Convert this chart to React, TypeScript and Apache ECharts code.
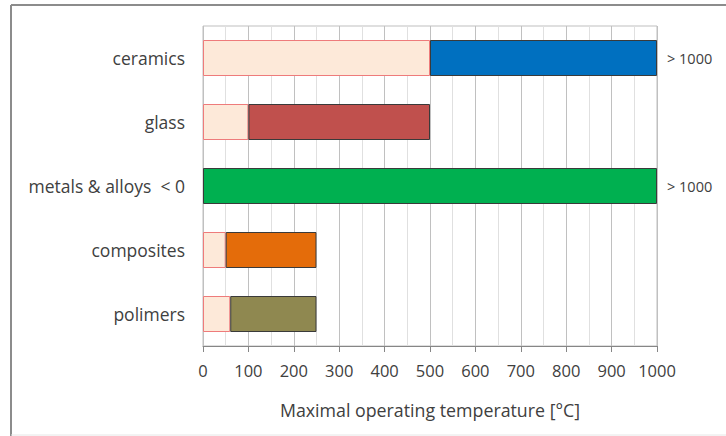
import React, { useEffect, useRef } from "react";
import * as echarts from "echarts";

const categories = ["ceramics", "glass", "metals & alloys  < 0", "composites", "polimers"];
const baseValues = [500, 100, 0, 50, 60];
const rangeValues = [500, 400, 1000, 200, 190];
const rangeColors = ["#0070C0", "#C0504D", "#00B050", "#E46C0A", "#8F8850"];
const overflowLabels = ["> 1000", "", "> 1000", "", ""];
const axisTitle = "Maximal operating temperature [°C]";

const FONT = "'Open Sans', sans-serif";
const TEXT = "#404040";

export default function App() {
  const ref = useRef<HTMLDivElement>(null);
  useEffect(() => {
    const chart = echarts.init(ref.current!, null, { renderer: "svg" });
    chart.setOption({
      animation: false,
      backgroundColor: "#ffffff",
      grid: {
        left: 203,
        right: 69,
        top: 26,
        bottom: 90,
        show: true,
        borderColor: "#bfbfbf",
        borderWidth: 1,
      },
      xAxis: {
        type: "value",
        min: 0,
        max: 1000,
        interval: 100,
        name: axisTitle,
        nameLocation: "middle",
        nameGap: 55,
        nameTextStyle: { fontFamily: FONT, fontSize: 17.8, color: TEXT },
        axisLine: { show: true, lineStyle: { color: "#868686", width: 1 } },
        axisTick: { show: true, length: 6, lineStyle: { color: "#868686" } },
        axisLabel: {
          margin: 16,
          fontFamily: FONT,
          fontSize: 16.5,
          color: TEXT,
          formatter: (v: number) => String(v),
        },
        splitLine: { show: true, lineStyle: { color: "#c0c0c0", width: 1 } },
        minorTick: { show: false, splitNumber: 2 },
        minorSplitLine: { show: true, lineStyle: { color: "#e0e0e0", width: 1 } },
      },
      yAxis: {
        type: "category",
        data: categories,
        inverse: true,
        axisLine: { show: false },
        axisTick: { show: false },
        splitLine: { show: false },
        axisLabel: { margin: 18, fontFamily: FONT, fontSize: 17.5, color: TEXT },
      },
      graphic: [
        { type: "line", shape: { x1: 11, y1: 5, x2: 726, y2: 5 }, style: { stroke: "#8c8c8c", lineWidth: 2 } },
        { type: "line", shape: { x1: 11, y1: 5, x2: 11, y2: 436 }, style: { stroke: "#8c8c8c", lineWidth: 2 } },
        { type: "line", shape: { x1: 11, y1: 435, x2: 726, y2: 435 }, style: { stroke: "#e6e6e6", lineWidth: 1 } },
      ],
      series: [
        {
          type: "bar",
          stack: "t",
          barWidth: 36,
          data: baseValues.map((v) => ({
            value: v,
            itemStyle: {
              color: "#FDE9D9",
              borderColor: "#EE7B7B",
              borderWidth: v > 0 ? 1 : 0,
            },
          })),
        },
        {
          type: "bar",
          stack: "t",
          barWidth: 36,
          data: rangeValues.map((v, i) => ({
            value: v,
            itemStyle: { color: rangeColors[i], borderColor: "#3a3a3a", borderWidth: 1 },
            label: {
              show: overflowLabels[i] !== "",
              position: "right",
              distance: 10,
              formatter: overflowLabels[i],
              fontFamily: FONT,
              fontSize: 14.5,
              color: TEXT,
            },
          })),
        },
      ],
    });
    return () => chart.dispose();
  }, []);
  return (
    <div
      ref={ref}
      style={{ position: "fixed", left: 0, top: 0, width: 726, height: 436 }}
    />
  );
}
